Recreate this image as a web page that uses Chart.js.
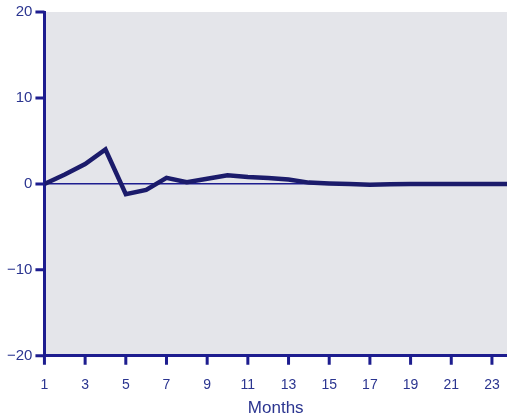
<!DOCTYPE html>
<html>
<head>
<meta charset="utf-8">
<script src="https://cdn.jsdelivr.net/npm/chart.js@4/dist/chart.umd.min.js"></script>
<style>
  html, body { margin: 0; padding: 0; background: #ffffff; }
  #wrap { width: 507px; height: 420px; position: relative; }
</style>
</head>
<body>
<div id="wrap"><canvas id="c"></canvas></div>
<script>
// Monthly response after the shock
const months = [1, 2, 3, 4, 5, 6, 7, 8, 9, 10, 11, 12, 13, 14, 15, 16, 17, 18, 19, 20, 21, 22, 23, 24];
const response = [0, 1.1, 2.3, 4.0, -1.2, -0.7, 0.7, 0.2, 0.6, 1.0, 0.8, 0.7, 0.5, 0.15, 0.05, 0, -0.1, -0.05, 0, 0, 0, 0, 0, 0];
const xTicks = [1, 3, 5, 7, 9, 11, 13, 15, 17, 19, 21, 23];
const yTicks = [-20, -10, 0, 10, 20];
const xTitle = 'Months';

const NAVY = '#1d1d8f';
const LINE = '#1b1b6b';
const LABEL = '#2b3590';
const TICK_LEN_X = 9;
const TICK_LEN_Y = 9;

// grey panel behind the plot
const panel = {
  id: 'panel',
  beforeDraw(chart) {
    const { ctx, chartArea: a } = chart;
    ctx.save();
    ctx.fillStyle = '#e4e5ea';
    ctx.fillRect(a.left, a.top, a.right - a.left, a.bottom - a.top);
    ctx.restore();
  }
};

// short tick marks outside both axes
const tickMarks = {
  id: 'tickMarks',
  afterDraw(chart) {
    const { ctx, chartArea: a, scales } = chart;
    ctx.save();
    ctx.strokeStyle = NAVY;
    ctx.lineWidth = 3;
    ctx.beginPath();
    xTicks.forEach(v => {
      const px = scales.x.getPixelForValue(v);
      ctx.moveTo(px, a.bottom);
      ctx.lineTo(px, a.bottom + TICK_LEN_X);
    });
    yTicks.forEach(v => {
      const py = scales.y.getPixelForValue(v);
      ctx.moveTo(a.left, py);
      ctx.lineTo(a.left - TICK_LEN_Y, py);
    });
    ctx.stroke();
    ctx.restore();
  }
};

new Chart(document.getElementById('c'), {
  type: 'line',
  data: {
    datasets: [{
      data: months.map((m, i) => ({ x: m, y: response[i] })),
      borderColor: LINE,
      borderWidth: 4.5,
      borderJoinStyle: 'miter',
      tension: 0,
      pointRadius: 0,
      fill: false
    }]
  },
  options: {
    responsive: true,
    maintainAspectRatio: false,
    animation: false,
    layout: { padding: { top: 9, right: 0, left: 4, bottom: 1 } },
    plugins: { legend: { display: false }, tooltip: { enabled: false } },
    scales: {
      x: {
        type: 'linear',
        min: 1,
        max: 23.74,
        afterBuildTicks(s) { s.ticks = xTicks.map(v => ({ value: v })); },
        // the plot runs right up to the edge of the canvas
        afterFit(s) { s.paddingRight = 0; },
        ticks: {
          color: LABEL,
          font: { family: 'Liberation Sans', size: 14 },
          padding: 12,
          maxRotation: 0,
          autoSkip: false
        },
        grid: {
          drawOnChartArea: false,
          tickColor: 'rgba(0,0,0,0)',
          tickLength: TICK_LEN_X
        },
        border: { display: true, color: NAVY, width: 3 },
        title: {
          display: true,
          text: xTitle,
          color: LABEL,
          font: { family: 'Liberation Sans', size: 17 },
          padding: { top: -7, bottom: 0 }
        }
      },
      y: {
        min: -20,
        max: 20,
        afterBuildTicks(s) { s.ticks = yTicks.map(v => ({ value: v })); },
        ticks: {
          color: LABEL,
          font: { family: 'Liberation Sans', size: 15 },
          padding: 3,
          callback: v => String(v).replace('-', '\u2212')
        },
        grid: {
          color: c => (c.tick && c.tick.value === 0 ? NAVY : 'rgba(0,0,0,0)'),
          lineWidth: 1.5,
          tickColor: 'rgba(0,0,0,0)',
          tickLength: TICK_LEN_Y
        },
        border: { display: true, color: NAVY, width: 3 }
      }
    }
  },
  plugins: [panel, tickMarks]
});
</script>
</body>
</html>
